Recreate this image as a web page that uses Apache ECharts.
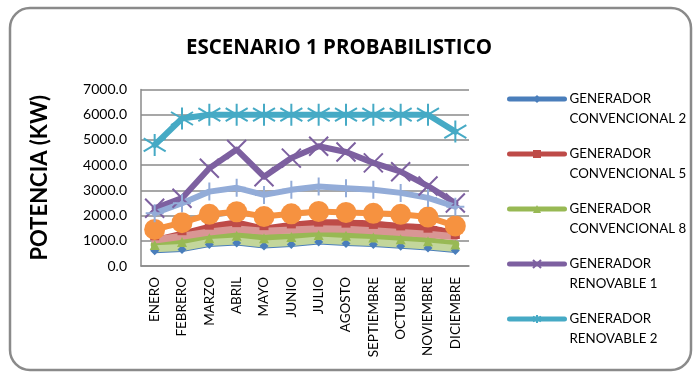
<!DOCTYPE html>
<html>
<head>
<meta charset="utf-8">
<script src="https://cdn.jsdelivr.net/npm/echarts@6/dist/echarts.min.js"></script>
<style>
  html, body { margin: 0; padding: 0; background: #ffffff; }
  #chart { width: 699px; height: 375px; }
</style>
</head>
<body>
<div id="chart"></div>
<script>
// Monthly categories
const meses = ['ENERO', 'FEBRERO', 'MARZO', 'ABRIL', 'MAYO', 'JUNIO', 'JULIO',
  'AGOSTO', 'SEPTIEMBRE', 'OCTUBRE', 'NOVIEMBRE', 'DICIEMBRE'];

// Y axis ticks (kW)
const yTicks = [0, 1000, 2000, 3000, 4000, 5000, 6000, 7000];

// Generator output per month (kW)
const convencional2 = [600, 650, 850, 910, 790, 850, 950, 890, 850, 780, 710, 610];
const convencional5 = [1200, 1400, 1620, 1720, 1600, 1670, 1740, 1700, 1650, 1590, 1500, 1250];
const convencional8 = [830, 950, 1100, 1200, 1100, 1150, 1230, 1200, 1130, 1060, 980, 850];
const renovable1 = [2290, 2690, 3880, 4620, 3540, 4280, 4750, 4520, 4090, 3740, 3170, 2500];
const renovable2 = [4800, 5850, 6000, 6000, 6000, 6000, 6000, 6000, 6000, 6000, 6000, 5330];
const serie6 = [1450, 1720, 2050, 2150, 1960, 2070, 2160, 2120, 2090, 2050, 1940, 1590];
const serie7 = [2090, 2490, 2950, 3100, 2820, 3020, 3150, 3080, 3020, 2900, 2700, 2350];
const serie8 = [1030, 1180, 1350, 1470, 1380, 1430, 1480, 1460, 1400, 1330, 1260, 1160];
const serie9 = [680, 730, 930, 990, 870, 930, 1030, 970, 930, 860, 790, 690];
const serieBlanca = [1250, 1500, 1780, 1950, 1700, 1850, 1950, 1950, 1900, 1800, 1750, 1550];

const FONT = 'Lato';

const SYM_STAR = 'path://M11,0L11,22M0,4.5L22,17.5M0,17.5L22,4.5';
const SYM_X = 'path://M0,0L19,19M0,19L19,0';
const SYM_PLUS = 'path://M9,0L9,18M0,9L18,9';

function lineSeries(name, data, color, width, symbol, size, stroked) {
  return {
    name: name,
    type: 'line',
    data: data,
    symbol: symbol,
    symbolSize: size,
    showSymbol: symbol !== 'none',
    lineStyle: { color: color, width: width, cap: 'round', join: 'round' },
    itemStyle: stroked
      ? { color: color, borderColor: color, borderWidth: 2 }
      : { color: color, borderWidth: 0 },
    emphasis: { disabled: true },
    animation: false
  };
}

const chart = echarts.init(document.getElementById('chart'), null, { renderer: 'canvas' });

chart.setOption({
  animation: false,
  backgroundColor: '#ffffff',
  title: {
    text: 'ESCENARIO 1 PROBABILISTICO',
    left: 334,
    top: 33,
    textAlign: 'center',
    textStyle: { fontFamily: 'Open Sans', fontWeight: 'bold', fontSize: 20.5, color: '#000000' }
  },
  graphic: [{
    type: 'rect',
    shape: { x: 10, y: 8, width: 681, height: 362, r: 20 },
    style: { fill: 'none', stroke: '#8a8a8a', lineWidth: 2.5 },
    z: 100
  }],
  legend: {
    data: ['GENERADOR CONVENCIONAL 2', 'GENERADOR CONVENCIONAL 5', 'GENERADOR CONVENCIONAL 8',
      'GENERADOR RENOVABLE 1', 'GENERADOR RENOVABLE 2'],
    orient: 'vertical',
    left: 507,
    top: 69,
    padding: 0,
    itemWidth: 55,
    itemHeight: 10,
    itemGap: -5,
    selectedMode: false,
    lineStyle: { width: 5 },
    formatter: function (name) {
      return '\n' + name.replace('GENERADOR ', 'GENERADOR\n');
    },
    textStyle: { fontFamily: FONT, fontSize: 13.3, color: '#000000', lineHeight: 20 }
  },
  grid: { left: 141, right: 230, top: 89.5, bottom: 109 },
  xAxis: {
    type: 'category',
    data: meses,
    boundaryGap: true,
    axisLine: { lineStyle: { color: '#8a8a8a', width: 1.5 } },
    axisTick: { show: false },
    axisLabel: { rotate: 90, margin: 11, fontFamily: FONT, fontSize: 13.5, color: '#000000', interval: 0 }
  },
  yAxis: {
    type: 'value',
    min: yTicks[0],
    max: yTicks[yTicks.length - 1],
    interval: yTicks[1] - yTicks[0],
    name: 'POTENCIA (KW)',
    nameLocation: 'middle',
    nameRotate: 90,
    nameGap: 90,
    nameTextStyle: { fontFamily: FONT, fontWeight: 'bold', fontSize: 22, color: '#000000' },
    axisLine: { show: true, lineStyle: { color: '#8a8a8a', width: 1.5 } },
    axisTick: { show: false },
    splitLine: { lineStyle: { color: '#8a8a8a', width: 1.5 } },
    axisLabel: {
      margin: 14, fontFamily: FONT, fontSize: 14, color: '#000000',
      formatter: function (v) { return v.toFixed(1); }
    }
  },
  series: [
    lineSeries('GENERADOR CONVENCIONAL 2', convencional2, '#4a7ebb', 5, 'diamond', 9, false),
    lineSeries('GENERADOR CONVENCIONAL 5', convencional5, '#be4b48', 8, 'rect', 9, false),
    lineSeries('GENERADOR CONVENCIONAL 8', convencional8, '#98b954', 8, 'triangle', 10, false),
    lineSeries('GENERADOR RENOVABLE 1', renovable1, '#7d60a0', 6, SYM_X, 19, true),
    lineSeries('GENERADOR RENOVABLE 2', renovable2, '#46aac5', 6, SYM_STAR, 22, true),
    lineSeries('serie blanca', serieBlanca, '#ffffff', 5, 'none', 0, false),
    lineSeries('serie 6', serie6, '#f69240', 6, 'circle', 21, false),
    lineSeries('serie 7', serie7, '#93acd8', 6, SYM_PLUS, 18, true),
    lineSeries('serie 8', serie8, '#d99694', 7, 'none', 0, false),
    lineSeries('serie 9', serie9, '#c3d69b', 7, 'none', 0, false)
  ]
});
</script>
</body>
</html>
